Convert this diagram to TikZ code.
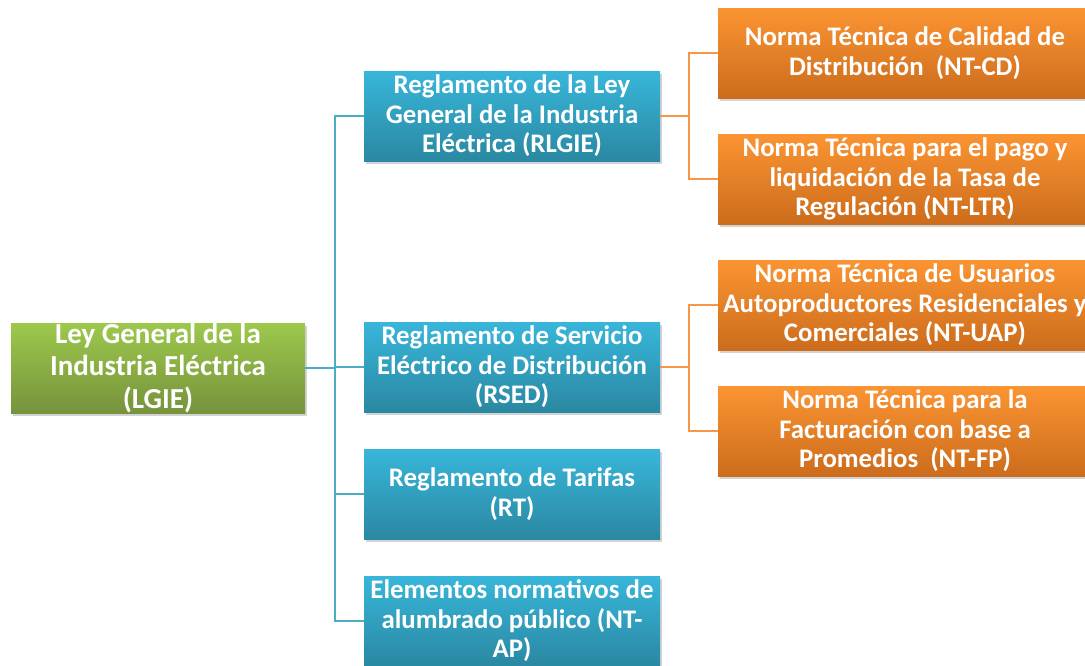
\documentclass[tikz,border=0pt]{standalone}
\usepackage{fontspec}
\setmainfont{Carlito}
\usetikzlibrary{shadows}
\definecolor{gtop}{HTML}{9DC84C}
\definecolor{gbot}{HTML}{76933C}
\definecolor{btop}{HTML}{38B6DA}
\definecolor{bbot}{HTML}{2A88A2}
\definecolor{otop}{HTML}{FB9432}
\definecolor{obot}{HTML}{CC6C1C}
\definecolor{bline}{HTML}{4BACC6}
\definecolor{oline}{HTML}{F79646}
\tikzset{
  box/.style={rectangle, inner sep=0pt, align=center, text=white,
    minimum height=90pt,
    drop shadow={opacity=0.35, shadow xshift=2pt, shadow yshift=-3pt}},
  greenbox/.style={box, top color=gtop, bottom color=gbot, minimum width=294pt,
    font=\fontsize{29}{32.5}\selectfont\bfseries},
  bluebox/.style={box, top color=btop, bottom color=bbot, minimum width=296pt,
    font=\fontsize{26.8}{29.5}\selectfont\bfseries},
  orangebox/.style={box, top color=otop, bottom color=obot, minimum width=374pt,
    font=\fontsize{26.8}{29.5}\selectfont\bfseries},
  bconn/.style={draw=bline, line width=2pt},
  oconn/.style={draw=oline, line width=2pt},
}
\begin{document}
\begin{tikzpicture}[x=1pt,y=-1pt]
\useasboundingbox (0,0) rectangle (1085,665);
\begin{scope}
\clip (0,0) rectangle (1085,665);
% junction points
\coordinate (bj) at (335,368);
\coordinate (oj1) at (689,116);
\coordinate (oj2) at (689,367);

% nodes
\node[greenbox] (lgie) at (158,368) {Ley General de la\\Industria Eléctrica\\(LGIE)};
\node[bluebox] (rlgie) at (512,116) {Reglamento de la Ley\\General de la Industria\\Eléctrica (RLGIE)};
\node[bluebox] (rsed) at (512,367) {Reglamento de Servicio\\Eléctrico de Distribución\\(RSED)};
\node[bluebox] (rt) at (512,494) {Reglamento de Tarifas\\(RT)};
\node[bluebox] (ntap) at (512,621) {Elementos normativos de\\alumbrado público (NT-\\AP)};
\node[orangebox] (ntcd) at (905,53) {Norma Técnica de Calidad de\\Distribución~~(NT-CD)};
\node[orangebox] (ntltr) at (905,179) {Norma Técnica para el pago y\\liquidación de la Tasa de\\Regulación (NT-LTR)};
\node[orangebox] (ntuap) at (905,305) {Norma Técnica de Usuarios\\Autoproductores Residenciales y\\Comerciales (NT-UAP)};
\node[orangebox] (ntfp) at (905,431) {Norma Técnica para la\\Facturación con base a\\Promedios~~(NT-FP)};

% connectors
\draw[bconn] (lgie.east) -- (bj);
\draw[bconn] (bj) |- (rlgie.west);
\draw[bconn] (bj) |- (rsed.west);
\draw[bconn] (bj) |- (rt.west);
\draw[bconn] (bj) |- (ntap.west);
\draw[oconn] (rlgie.east) -- (oj1);
\draw[oconn] (oj1) |- (ntcd.west);
\draw[oconn] (oj1) |- (ntltr.west);
\draw[oconn] (rsed.east) -- (oj2);
\draw[oconn] (oj2) |- (ntuap.west);
\draw[oconn] (oj2) |- (ntfp.west);
\end{scope}
\end{tikzpicture}
\end{document}
